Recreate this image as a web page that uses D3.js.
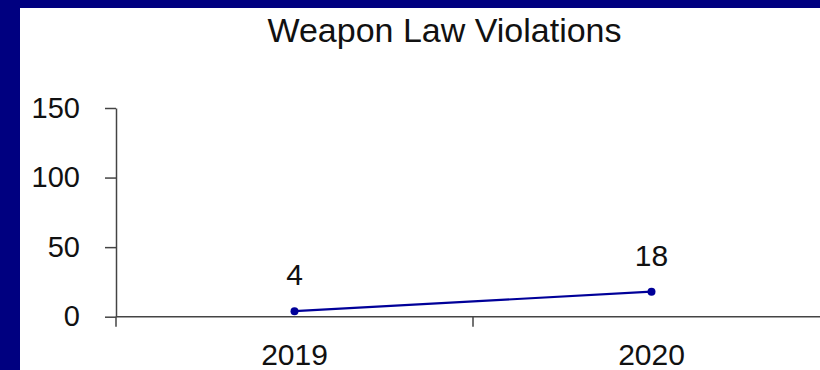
<!DOCTYPE html>
<html>
<head>
<meta charset="utf-8">
<script src="https://cdn.jsdelivr.net/npm/d3@7/dist/d3.min.js"></script>
<style>
  html, body { margin: 0; padding: 0; background: #000080; }
  svg { display: block; }
  text { font-family: "Liberation Sans", Arial, sans-serif; fill: #111; }
</style>
</head>
<body>
<svg id="chart" width="820" height="370"></svg>
<script>
// Chart data
const title = "Weapon Law Violations";
const years = ["2019", "2020"];
const violations = [4, 18];
const yTicks = [0, 50, 100, 150];

const width = 820, height = 370;
const svg = d3.select("#chart");

// Navy frame with white plotting panel
svg.append("rect").attr("width", width).attr("height", height).attr("fill", "#000080");
svg.append("rect").attr("x", 20).attr("y", 8).attr("width", width - 20).attr("height", height - 8).attr("fill", "#ffffff");

const x = d3.scaleBand().domain(years).range([116, 830]).padding(0);
const y = d3.scaleLinear().domain([0, 150]).range([316.7, 108]);

const axisColor = "#444";

// Title
svg.append("text")
  .attr("x", 444.5).attr("y", 42)
  .attr("text-anchor", "middle")
  .style("font-size", "34px")
  .text(title);

// Y axis
const yAxis = svg.append("g")
  .attr("transform", "translate(116,0)")
  .call(d3.axisLeft(y).tickValues(yTicks).tickSize(11).tickSizeOuter(0).tickPadding(25));
yAxis.select(".domain").attr("stroke", axisColor).attr("stroke-width", 1.5);
yAxis.selectAll(".tick line").attr("stroke", axisColor).attr("stroke-width", 1.5);
yAxis.selectAll(".tick text")
  .style("font-size", "29px")
  .style("font-family", "'Liberation Sans', Arial, sans-serif")
  .attr("fill", "#111");

// X axis: baseline plus ticks between categories
const xAxis = svg.append("g");
xAxis.append("line")
  .attr("x1", x.range()[0]).attr("x2", x.range()[1])
  .attr("y1", y(0)).attr("y2", y(0))
  .attr("stroke", axisColor).attr("stroke-width", 1.5);
const boundaries = years.map(d => x(d)).concat([x.range()[1]]);
xAxis.selectAll("line.tick")
  .data(boundaries)
  .join("line")
  .attr("class", "tick")
  .attr("x1", d => d).attr("x2", d => d)
  .attr("y1", y(0)).attr("y2", y(0) + 10)
  .attr("stroke", axisColor).attr("stroke-width", 1.5);
xAxis.selectAll("text")
  .data(years)
  .join("text")
  .attr("x", d => x(d) + x.bandwidth() / 2)
  .attr("y", 365)
  .attr("text-anchor", "middle")
  .style("font-size", "30px")
  .text(d => d);

// Series line and markers
const pts = years.map((d, i) => ({ year: d, value: violations[i] }));
const cx = d => x(d.year) + x.bandwidth() / 2;

svg.append("path")
  .datum(pts)
  .attr("fill", "none")
  .attr("stroke", "#000099")
  .attr("stroke-width", 2.2)
  .attr("d", d3.line().x(cx).y(d => y(d.value)));

svg.selectAll("circle.pt")
  .data(pts)
  .join("circle")
  .attr("class", "pt")
  .attr("cx", cx)
  .attr("cy", d => y(d.value))
  .attr("r", 4)
  .attr("fill", "#000099");

// Value labels
svg.selectAll("text.val")
  .data(pts)
  .join("text")
  .attr("class", "val")
  .attr("x", cx)
  .attr("y", d => y(d.value) - 26)
  .attr("text-anchor", "middle")
  .style("font-size", "30px")
  .text(d => d.value);
</script>
</body>
</html>
